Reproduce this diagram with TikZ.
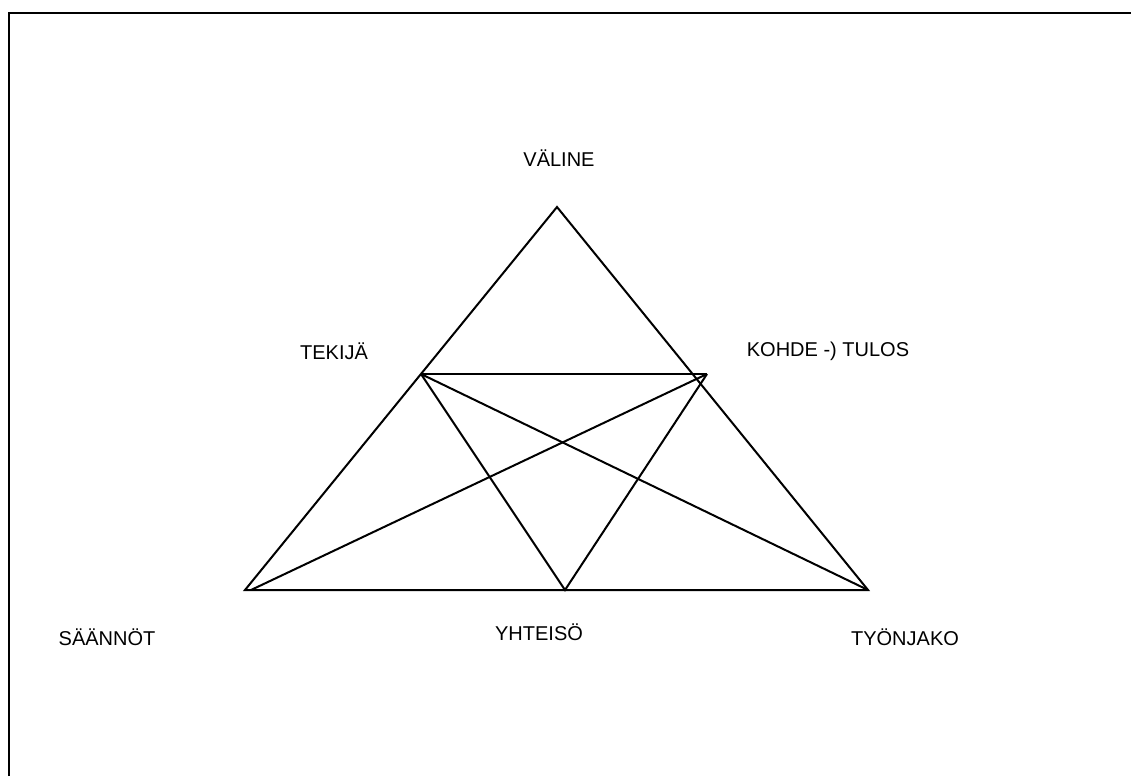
\documentclass[tikz,border=0pt]{standalone}
\usepackage{fontspec}
\setmainfont{Liberation Sans}
\begin{document}
\begin{tikzpicture}[x=1pt,y=-1pt]
\tikzstyle{edge} = [line width=2pt, line join=miter]
\tikzstyle{word} = [font=\fontsize{20}{22}\selectfont, inner sep=0pt]

\useasboundingbox (0,0) rectangle (1131,776);
\draw[line width=2.4pt] (9,776) -- (9,13) -- (1131,13);

% corners of the triangle
\coordinate (top) at (557,207);
\coordinate (left) at (245,590);
\coordinate (left2) at (251,590);
\coordinate (right) at (868,590);
\coordinate (tek) at (421,374);
\coordinate (koh) at (707,374);
\coordinate (yht) at (565,590);

\draw[edge] (left) -- (top) -- (right) -- (left) -- cycle;
\draw[edge] (tek) -- (koh);
\draw[edge] (tek) -- (yht) -- (koh);
\draw[edge] (tek) -- (right);
\draw[edge] (koh) -- (left2);

\node[word] (valine) at (559,158) {VÄLINE};
\node[word] (tekija) at (334,351) {TEKIJÄ};
\node[word] (kohde) at (828,351) {KOHDE -) TULOS};
\node[word] (saannot) at (107,637) {SÄÄNNÖT};
\node[word] (yhteiso) at (539,632) {YHTEISÖ};
\node[word] (tyonjako) at (905,637) {TYÖNJAKO};

\end{tikzpicture}
\end{document}
